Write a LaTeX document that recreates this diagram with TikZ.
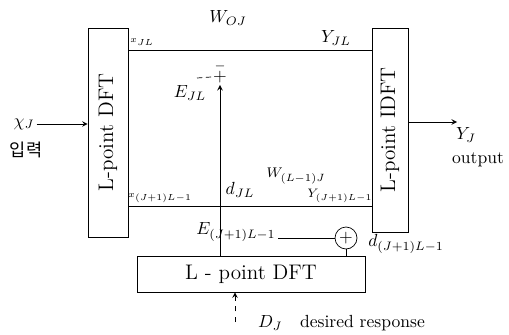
\documentclass[tikz,border=0pt]{standalone}
\usepackage{amsmath}
\usepackage{fontspec}
\newfontfamily\krfont{Noto Sans CJK KR}
\usetikzlibrary{arrows.meta, positioning, calc}

\begin{document}
\begin{tikzpicture}[x=0.02cm, y=-0.02cm, >=stealth,
  dftbox/.style={draw, inner sep=0pt, font=\large},
  lbl/.style={inner sep=1pt}]
  \useasboundingbox (0,0) rectangle (509,334);

  % LEFT: input DFT
  \node[dftbox, minimum width=0.8cm, minimum height=4.18cm] (ldft) at (108,132.5) {\rotatebox{90}{L-point DFT}};
  \node[lbl] (chi) at (24,124) {$\chi_J$};
  \node[lbl, font=\krfont] (inp) at (26,150) {입력};
  \draw[->] (chi.east) -- (chi.east -| ldft.west);

  % RIGHT: output IDFT
  \node[dftbox, minimum width=0.72cm, minimum height=4.08cm] (idft) at (390,130) {\rotatebox{90}{L-point IDFT}};
  \coordinate (yj) at (457,122);
  \draw[->] (idft.east |- yj) -- (yj);
  \node[lbl] (yjl) at (466,135) {$Y_J$};
  \node[lbl] (out) at (478,160) {output};

  % BOTTOM: desired response DFT
  \node[dftbox, minimum width=4.56cm, minimum height=0.72cm] (ddft) at (251,274) {L - point DFT};
  \coordinate (dj) at (235,322);
  \draw[->, dashed] (dj) -- (dj |- ddft.south);
  \node[lbl, anchor=west] (djl) at (256,323) {$D_J$\quad desired response};

  % first tap
  \coordinate (t0) at (0,50);
  \draw (ldft.east |- t0) -- (idft.west |- t0);
  \node[lbl, font=\tiny] (x0) at (142,42) {$x_{JL}$};
  \node[lbl] (w0) at (228,18) {$W_{OJ}$};
  \node[lbl] (y0) at (336,38) {$Y_{JL}$};
  \node[lbl] (p1) at (220,77) {$+$};
  \node[lbl, font=\scriptsize] (m1) at (220,66) {$-$};
  \coordinate (e1) at (197,78);
  \draw[densely dashed] (e1) -- (p1.west);
  \draw[->] (ddft.north -| p1) -- (p1.south);
  \node[lbl] (e0) at (190,93) {$E_{JL}$};
  \node[lbl] (d0) at (240,190) {$d_{JL}$};

  % last tap
  \coordinate (t1) at (0,206);
  \draw (ldft.east |- t1) -- (idft.west |- t1);
  \node[lbl, font=\tiny] (x1) at (160,198) {$x_{(J+1)L-1}$};
  \node[lbl, font=\footnotesize] (w1) at (296,176) {$W_{(L-1)J}$};
  \node[lbl, font=\scriptsize] (y1) at (340,196) {$Y_{(J+1)L-1}$};
  \node[lbl] (e2) at (236,232) {$E_{(J+1)L-1}$};
  \node[draw, circle, minimum size=0.44cm, inner sep=0pt] (s2) at (346,238) {$+$};
  \draw (s2.west) -- (s2.west -| e2.east);
  \draw (s2.south) -- (s2.south |- ddft.north);
  \node[lbl] (d1) at (406,244) {$d_{(J+1)L-1}$};
\end{tikzpicture}
\end{document}
